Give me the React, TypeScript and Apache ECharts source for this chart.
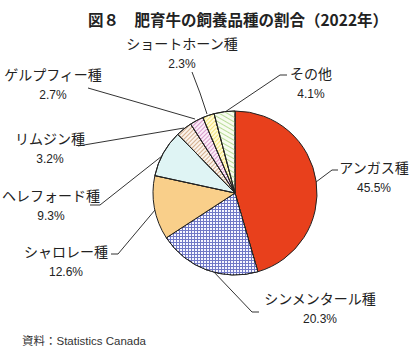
import React, { useEffect, useRef } from "react";
import * as echarts from "echarts";

const breeds = ["アンガス種", "シンメンタール種", "シャロレー種", "ヘレフォード種", "リムジン種", "ゲルプフィー種", "ショートホーン種", "その他"];
const shares = [45.5, 20.3, 12.6, 9.3, 3.2, 2.7, 2.3, 4.1];
const titleText = "図８　肥育牛の飼養品種の割合（2022年）";
const sourceText = "資料：Statistics Canada";

// label block centres and leader-line points (layout only)
const labelPos: number[][] = [
  [374, 177], [320, 308], [66, 261], [51, 205], [50, 148], [53, 84], [182, 53], [311, 83],
];
const linePts: number[][][] = [
  [[316, 182], [332, 170], [338, 170]],
  [[212, 270], [252, 312], [259, 312]],
  [[155, 210], [118, 254], [111, 254]],
  [[162, 156], [100, 205], [90, 205]],
  [[184, 128], [131, 137], [78, 146]],
  [[195, 119], [140, 103], [88, 88]],
  [[207, 114], [200, 93], [192, 72]],
  [[225, 112], [280, 75], [287, 75]],
];

const styles: any[] = [
  { color: "#e8401c" },
  { color: "#7078c6", decal: { symbol: "rect", symbolSize: 1, color: "#f6f6ff", dashArrayX: [2, 1], dashArrayY: [2, 1], rotation: 0 } },
  { color: "#f9cf8a" },
  { color: "#dff4f4", decal: { symbol: "circle", symbolSize: 1, color: "#72bec8", dashArrayX: [1, 2], dashArrayY: [1, 2], rotation: 0 } },
  { color: "#fbf3ec", decal: { symbol: "rect", symbolSize: 1, color: "#d4b090", dashArrayX: [1, 0], dashArrayY: [1, 2], rotation: -Math.PI / 4 } },
  { color: "#fbeef8", decal: { symbol: "rect", symbolSize: 1, color: "#d89ccc", dashArrayX: [1, 0], dashArrayY: [1, 2], rotation: -Math.PI / 4 } },
  { color: "#fffbd8", decal: { symbol: "rect", symbolSize: 1, color: "#f4e47c", dashArrayX: [1, 0], dashArrayY: [1, 2], rotation: -Math.PI / 4 } },
  { color: "#f8fcf0", decal: { symbol: "rect", symbolSize: 1, color: "#b8dc98", dashArrayX: [1, 0], dashArrayY: [1, 3], rotation: Math.PI / 6 } },
];

export default function App() {
  const ref = useRef<HTMLDivElement>(null);
  useEffect(() => {
    if (!ref.current) return;
    const chart = echarts.init(ref.current, undefined, { renderer: "svg" });
    const font = "'Noto Sans CJK JP', 'Noto Sans', sans-serif";
    chart.setOption({
      animation: false,
      backgroundColor: "#ffffff",
      title: {
        text: titleText,
        left: 233,
        top: 6,
        textAlign: "center",
        textStyle: { fontFamily: font, fontSize: 15.5, fontWeight: "bold", color: "#222" },
      },
      graphic: [
        {
          type: "text",
          left: 22,
          top: 335,
          style: { text: sourceText, fontFamily: "'Liberation Sans', 'Noto Sans CJK JP', sans-serif", fontSize: 11.5, fill: "#333" },
        },
      ],
      series: [
        {
          type: "pie",
          center: [235, 193],
          radius: 82,
          startAngle: 90,
          clockwise: true,
          bleedMargin: 0,
          data: breeds.map((b, i) => ({
            name: b,
            value: shares[i],
            itemStyle: { ...styles[i], borderColor: "#222", borderWidth: 1 },
          })),
          label: {
            show: true,
            overflow: "none",
            formatter: (p: any) => `{n|${p.name}}\n{p|${p.value.toFixed(1)}%}`,
            align: "center",
            rich: {
              n: { fontFamily: font, fontSize: 14, color: "#222", lineHeight: 21, align: "center" },
              p: { fontFamily: "'Liberation Sans', Arial, sans-serif", fontSize: 12, color: "#222", lineHeight: 21, align: "center" },
            },
          },
          labelLine: { show: true, lineStyle: { color: "#333", width: 1 } },
          labelLayout: (params: any) => {
            const i = params.dataIndex;
            return {
              x: labelPos[i][0],
              y: labelPos[i][1],
              width: 140,
              align: "center",
              verticalAlign: "middle",
              labelLinePoints: linePts[i],
            };
          },
          emphasis: { disabled: true },
        },
      ],
    });
    return () => chart.dispose();
  }, []);
  return <div ref={ref} style={{ position: "fixed", left: 0, top: 0, width: 420, height: 352 }} />;
}
